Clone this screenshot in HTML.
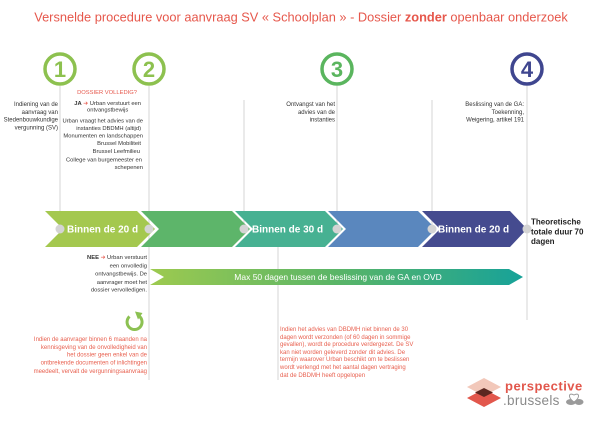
<!DOCTYPE html>
<html><head><meta charset="utf-8">
<style>
html,body{margin:0;padding:0;background:#fff;}
svg{display:block;font-family:"Liberation Sans",Arial,sans-serif;}
</style></head>
<body>
<svg width="600" height="424" viewBox="0 0 600 424" xmlns="http://www.w3.org/2000/svg">
<defs>
<linearGradient id="g1" x1="0" y1="0" x2="1" y2="0">
<stop offset="0" stop-color="#9dca4f"/>
<stop offset="0.5" stop-color="#5ab567"/>
<stop offset="1" stop-color="#17a299"/>
</linearGradient>
</defs>

<!-- title -->
<text x="301" y="21.5" font-size="12.8" fill="#e6574b" text-anchor="middle">Versnelde procedure voor aanvraag SV « Schoolplan » - Dossier <tspan font-weight="bold">zonder</tspan> openbaar onderzoek</text>

<!-- vertical lines -->
<g stroke="#dcdcdc" stroke-width="1.2" fill="none">
<line x1="60" y1="86" x2="60" y2="229"/>
<line x1="149" y1="86" x2="149" y2="380"/>
<line x1="244" y1="100" x2="244" y2="229"/>
<line x1="337" y1="86" x2="337" y2="229"/>
<line x1="432" y1="100" x2="432" y2="229"/>
<line x1="527" y1="86" x2="527" y2="320"/>
<line x1="278" y1="239" x2="278" y2="380"/>
</g>
<line x1="275" y1="239.5" x2="281" y2="239.5" stroke="#bbbbbb" stroke-width="1.5"/>

<!-- circles -->
<g fill="none" stroke-width="3.5">
<circle cx="60" cy="69" r="15" stroke="#8dc14f"/>
<circle cx="149" cy="69" r="15" stroke="#8dc14f"/>
<circle cx="337" cy="69" r="15" stroke="#5ab55e"/>
<circle cx="527" cy="69" r="15" stroke="#3f468f"/>
</g>
<g font-size="22" font-weight="bold" text-anchor="middle">
<text x="60" y="77" fill="#8dc14f">1</text>
<text x="149" y="77" fill="#8dc14f">2</text>
<text x="337" y="77" fill="#5ab55e">3</text>
<text x="527" y="77" fill="#3f468f">4</text>
</g>

<!-- top texts -->
<g font-size="6" fill="#333" text-anchor="end">
<text x="58" y="106">Indiening van de</text>
<text x="58" y="114">aanvraag van</text>
<text x="58" y="121.5">Stedenbouwkundige</text>
<text x="58" y="129.5">vergunning  (SV)</text>
</g>
<text x="137" y="94" font-size="5.8" fill="#e6574b" text-anchor="end">DOSSIER VOLLEDIG?</text>
<g font-size="5.8" fill="#333">
<text x="141" y="104.8" text-anchor="end"><tspan font-weight="bold">JA</tspan> <tspan fill="#e6574b" font-family="DejaVu Sans">➔</tspan> Urban verstuurt een</text>
<text x="87" y="111.4">ontvangstbewijs</text>
<text x="143" y="122.4" text-anchor="end">Urban vraagt het advies van de</text>
<text x="141" y="129.8" text-anchor="end">instanties DBDMH (altijd)</text>
<text x="143" y="137.4" text-anchor="end">Monumenten en landschappen</text>
<text x="141" y="144.8" text-anchor="end">Brussel Mobiliteit</text>
<text x="140" y="153.1" text-anchor="end">Brussel Leefmilieu</text>
<text x="142" y="161.4" text-anchor="end">College van burgemeester en</text>
<text x="143" y="168.8" text-anchor="end">schepenen</text>
</g>
<g font-size="6" fill="#333" text-anchor="end">
<text x="335" y="106">Ontvangst van het</text>
<text x="335" y="114">advies van de</text>
<text x="335" y="121.5">instanties</text>
<text x="524" y="106">Beslissing van de GA:</text>
<text x="524" y="114">Toekenning,</text>
<text x="524" y="121.5">Weigering, artikel 191</text>
</g>

<!-- chevrons -->
<polygon points="45,211 137,211 155,229 137,247 45,247 63,229" fill="#a4c84f"/>
<polygon points="141,211 232,211 250,229 232,247 141,247 159,229" fill="#5db56a"/>
<polygon points="235,211 325,211 343,229 325,247 235,247 253,229" fill="#47b192"/>
<polygon points="328,211 418,211 436,229 418,247 328,247 346,229" fill="#5a87be"/>
<polygon points="422,211 510,211 527,229 510,247 422,247 440,229" fill="#454b8f"/>

<!-- dots -->
<g fill="#d4d4d4">
<circle cx="60" cy="229" r="4.5"/>
<circle cx="149" cy="229" r="4.5"/>
<circle cx="244" cy="229" r="4.5"/>
<circle cx="337" cy="229" r="4.5"/>
<circle cx="432" cy="229" r="4.5"/>
<circle cx="527" cy="229" r="4.5"/>
</g>

<g font-size="10" font-weight="bold" fill="#fff">
<text x="67" y="232.6">Binnen de 20 d</text>
<text x="252" y="232.6">Binnen de 30 d</text>
<text x="438" y="232.6">Binnen de 20 d</text>
</g>
<g font-size="8" font-weight="bold" fill="#222">
<text x="531" y="224.6">Theoretische</text>
<text x="531" y="234.4">totale duur 70</text>
<text x="531" y="243.8">dagen</text>
</g>

<!-- NEE text -->
<g font-size="5.8" fill="#333" text-anchor="end">
<text x="147" y="259"><tspan font-weight="bold">NEE</tspan> <tspan fill="#e6574b" font-family="DejaVu Sans">➔</tspan> Urban verstuurt</text>
<text x="147" y="267.5">een onvolledig</text>
<text x="147" y="275.5">ontvangstbewijs. De</text>
<text x="147" y="284">aanvrager moet het</text>
<text x="147" y="291.5">dossier vervolledigen.</text>
</g>

<!-- gradient bar -->
<polygon points="150,269 509,269 523,277 509,285 150,285 164,277" fill="url(#g1)"/>
<text x="338" y="280.2" font-size="8.5" fill="#fff" text-anchor="middle">Max 50 dagen tussen de beslissing van de GA en OVD</text>

<!-- refresh icon -->
<path d="M 129.5 316.5 A 7.5 7.5 0 1 0 139 316" fill="none" stroke="#8cc152" stroke-width="3"/>
<polygon points="135,311.5 142.5,313 138,319.5" fill="#8cc152"/>

<!-- red texts -->
<g font-size="6" fill="#e8604f" text-anchor="end">
<text x="147" y="341">Indien de aanvrager binnen 6 maanden na</text>
<text x="147" y="349">kennisgeving van de onvolledigheid van</text>
<text x="147" y="356.5">het dossier geen enkel van de</text>
<text x="147" y="364.5">ontbrekende documenten of inlichtingen</text>
<text x="147" y="372.8">meedeelt, vervalt de vergunningsaanvraag</text>
</g>
<g font-size="6" fill="#e8604f">
<text x="280" y="331">Indien het advies van DBDMH niet binnen de 30</text>
<text x="280" y="339">dagen wordt verzonden (of 60 dagen in sommige</text>
<text x="280" y="346">gevallen), wordt de procedure verdergezet. De SV</text>
<text x="280" y="354">kan niet worden geleverd zonder dit advies. De</text>
<text x="280" y="361">termijn waarover Urban beschikt om te beslissen</text>
<text x="280" y="369">wordt verlengd met het aantal dagen vertraging</text>
<text x="280" y="377">dat de DBDMH heeft opgelopen</text>
</g>

<!-- logo -->
<polygon points="467,387 484,378 501,387 484,396" fill="#f2c8ba"/>
<polygon points="467,398 484,389 501,398 484,407" fill="#e2574c"/>
<polygon points="475,392.5 484,388 493,392.5 484,397" fill="#5b2720"/>
<text x="505" y="390.7" font-size="13" font-weight="bold" letter-spacing="0.5" fill="#e2574c">perspective</text>
<text x="503" y="405" font-size="13.5" letter-spacing="0.3" fill="#8a8a8a">.brussels</text>
<ellipse cx="571" cy="402" rx="5" ry="3" fill="#9a9a9a"/>
<ellipse cx="579" cy="402" rx="4.5" ry="3" fill="#9a9a9a"/>
<path d="M 574 402 C 567 397, 569 392, 574 395 C 579 392, 581 397, 574 402 Z" fill="#fff" stroke="#9a9a9a" stroke-width="1"/>
</svg>
</body></html>
